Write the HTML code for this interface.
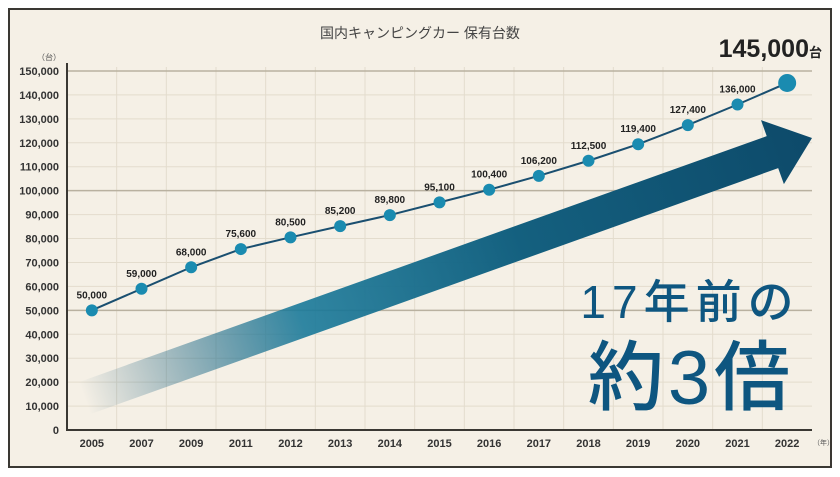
<!DOCTYPE html>
<html><head><meta charset="utf-8"><style>
body{margin:0;background:#fff;width:840px;height:477px;overflow:hidden}
svg{display:block}
text{font-family:"Liberation Sans","Noto Sans CJK JP",sans-serif}
</style></head><body>
<svg id="c" width="840" height="477" viewBox="0 0 840 477">
<defs>
<linearGradient id="ag" x1="85" y1="400" x2="812" y2="140" gradientUnits="userSpaceOnUse">
<stop offset="0" stop-color="#0d4a6a" stop-opacity="0"/>
<stop offset="0.3" stop-color="#1a7a9a" stop-opacity="0.9"/>
<stop offset="0.6" stop-color="#14607f"/>
<stop offset="1" stop-color="#0d4a6a"/>
</linearGradient>
</defs>
<rect x="9" y="9" width="822" height="458" fill="#f5f0e6" stroke="#3a3833" stroke-width="2"/>
<text x="420" y="38" text-anchor="middle" font-size="14" fill="#444">国内キャンピングカー 保有台数</text>
<text x="49" y="60" text-anchor="middle" font-size="8" fill="#555">（台）</text>
<text x="822" y="57" text-anchor="end" font-size="25" font-weight="bold" fill="#222">145,000<tspan font-size="13">台</tspan></text>
<g id="grid"></g>
<g id="arrow"></g>
<g id="series"></g>
<g id="axes"></g>
<text x="690" y="318" text-anchor="middle" font-size="46" font-weight="500" fill="#0e5680" letter-spacing="6">17年前の</text>
<text x="691" y="404" text-anchor="middle" font-size="76" font-weight="500" fill="#0e5680" letter-spacing="4">約3倍</text>
</svg>
<script>
const categories=["2005","2007","2009","2011","2012","2013","2014","2015","2016","2017","2018","2019","2020","2021","2022"];
const values=[50000,59000,68000,75600,80500,85200,89800,95100,100400,106200,112500,119400,127400,136000,145000];
const valueLabels=["50,000","59,000","68,000","75,600","80,500","85,200","89,800","95,100","100,400","106,200","112,500","119,400","127,400","136,000",""];
const yTicks=[0,10000,20000,30000,40000,50000,60000,70000,80000,90000,100000,110000,120000,130000,140000,150000];
const NS="http://www.w3.org/2000/svg";
const L=67,R=812,T=71,B=430,YMAX=150000;
const bw=(R-L)/categories.length;
const xs=i=>L+(i+0.5)*bw;
const ys=v=>B-(v/YMAX)*(B-T);
function mk(tag,attrs,parent){const e=document.createElementNS(NS,tag);for(const k in attrs)e.setAttribute(k,attrs[k]);parent.appendChild(e);return e;}
const grid=document.getElementById('grid'),axes=document.getElementById('axes'),series=document.getElementById('series'),arrow=document.getElementById('arrow');
for(let i=1;i<categories.length;i++){
 const l=mk('line',{x1:L+i*bw,x2:L+i*bw,y1:T-4,y2:B,stroke:'#e3dccd','stroke-width':1},grid);
 
 
}
yTicks.forEach(v=>{
 const major=v%50000===0&&v>0;
 const l=mk('line',{x1:L,x2:R,y1:ys(v),y2:ys(v),stroke:major?'#b9b1a0':'#e3dccd','stroke-width':major?1.5:1},grid);
 
 
 const t=mk('text',{x:L-8,y:ys(v)+4,'text-anchor':'end','font-size':11,'font-weight':'bold',fill:'#333'},axes);
 t.textContent=v.toLocaleString('en-US');
 
 
});
let a=mk('line',{x1:L,x2:L,y1:T-8,y2:B+1,stroke:'#3a3833','stroke-width':2},axes);


a=mk('line',{x1:L-1,x2:R,y1:B,y2:B,stroke:'#3a3833','stroke-width':2},axes);


categories.forEach((c,i)=>{
 const t=mk('text',{x:xs(i),y:B+17,'text-anchor':'middle','font-size':11,'font-weight':'bold',fill:'#333'},axes);
 t.textContent=c;
 
 
});
const yu=mk('text',{x:R+1,y:B+15,'font-size':7,fill:'#555'},axes);
yu.textContent='（年）';


(function(){
 const x0=85,y0=398,x1=812,y1=138;
 const dx=x1-x0,dy=y1-y0,len=Math.hypot(dx,dy),ux=dx/len,uy=dy/len,nx=-uy,ny=ux;
 const hw=17,hh=34,hl=42;
 const bx=x1-ux*hl,by=y1-uy*hl;
 const pts=[[x0+nx*hw,y0+ny*hw],[bx+nx*hw,by+ny*hw],[bx+nx*hh,by+ny*hh],[x1,y1],[bx-nx*hh,by-ny*hh],[bx-nx*hw,by-ny*hw],[x0-nx*hw,y0-ny*hw]];
 const p=mk('polygon',{points:pts.map(q=>q.join(',')).join(' '),fill:'url(#ag)'},arrow);
 
 
})();
const line=mk('polyline',{points:values.map((v,i)=>xs(i)+','+ys(v)).join(' '),fill:'none',stroke:'#1a4f70','stroke-width':2},series);


values.forEach((v,i)=>{
 const last=i===values.length-1;
 const c=mk('circle',{cx:xs(i),cy:ys(v),r:last?9:6,fill:'#1a8bb0'},series);
 
 
 if(valueLabels[i]){
  const t=mk('text',{x:xs(i),y:ys(v)-12,'text-anchor':'middle','font-size':10,'font-weight':'bold',fill:'#222'},series);
  t.textContent=valueLabels[i];
  
  
 }
});
</script>
</body></html>
